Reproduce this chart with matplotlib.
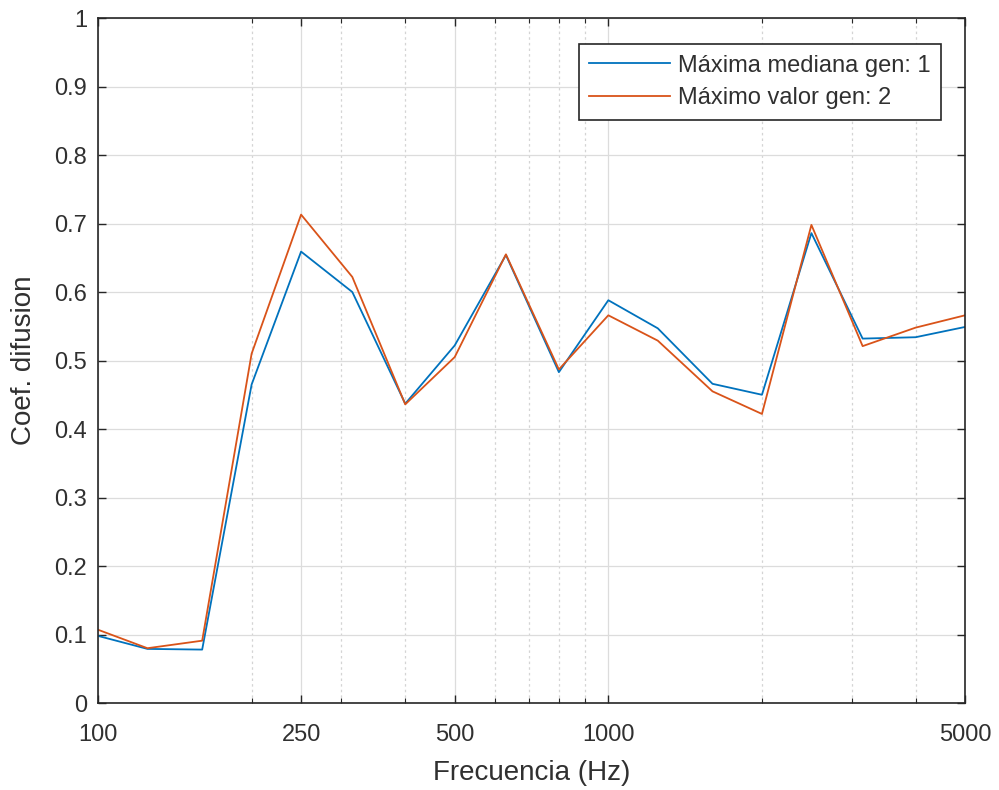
import matplotlib
matplotlib.use("Agg")
import matplotlib.pyplot as plt
from matplotlib.ticker import FixedLocator, NullFormatter

freqs = [100, 125, 160, 200, 250, 315, 400, 500, 630, 800, 1000, 1250,
         1600, 2000, 2500, 3150, 4000, 5000]
mediana_gen1 = [0.098, 0.079, 0.078, 0.465, 0.659, 0.600, 0.437, 0.522, 0.654,
                0.483, 0.588, 0.547, 0.466, 0.450, 0.686, 0.532, 0.534, 0.549]
maximo_gen2 = [0.107, 0.080, 0.091, 0.510, 0.713, 0.622, 0.436, 0.505, 0.655,
               0.487, 0.566, 0.529, 0.455, 0.422, 0.698, 0.521, 0.548, 0.566]
labels = ["Máxima mediana gen: 1", "Máximo valor gen: 2"]
xticks = [100, 250, 500, 1000, 5000]
xminor = [200, 300, 400, 600, 700, 800, 900, 2000, 3000, 4000]
yticks = [0, 0.1, 0.2, 0.3, 0.4, 0.5, 0.6, 0.7, 0.8, 0.9, 1]
ytick_labels = ["0", "0.1", "0.2", "0.3", "0.4", "0.5", "0.6", "0.7", "0.8", "0.9", "1"]

plt.rcParams['font.family'] = ['Liberation Sans', 'DejaVu Sans']
txt = '#303030'

fig = plt.figure(figsize=(9.99, 7.9), dpi=100)
ax = fig.add_axes([0.0981, 0.1101, 0.966 - 0.0981, 0.9772 - 0.1101])

ax.plot(freqs, mediana_gen1, color='#0072BD', lw=1.3, label=labels[0])
ax.plot(freqs, maximo_gen2, color='#D95319', lw=1.3, label=labels[1])

ax.set_xscale('log')
ax.set_xlim(100, 5000)
ax.set_ylim(0, 1)
ax.xaxis.set_major_locator(FixedLocator(xticks))
ax.set_xticklabels([str(v) for v in xticks])
ax.xaxis.set_minor_locator(FixedLocator(xminor))
ax.xaxis.set_minor_formatter(NullFormatter())
ax.set_yticks(yticks)
ax.set_yticklabels(ytick_labels)

ax.grid(which='major', color='#dcdcdc', lw=0.9, ls='-')
ax.grid(which='minor', axis='x', color='#d4d4d4', lw=0.9, ls=(0, (2, 2.5)))
ax.set_axisbelow(True)

ax.tick_params(which='major', direction='in', length=6, width=1.0, colors='#262626',
               labelsize=17, labelcolor=txt, top=True, right=True)
ax.tick_params(which='minor', direction='in', length=3.5, width=0.8, colors='#262626',
               top=True, right=False)
ax.tick_params(axis='x', pad=15)
ax.tick_params(axis='y', pad=8)
for s in ax.spines.values():
    s.set_color('#262626')
    s.set_linewidth(1.2)

ax.set_xlabel('Frecuencia (Hz)', fontsize=20, color=txt, labelpad=10)
ax.set_ylabel('Coef. difusion', fontsize=20, color=txt, labelpad=12)

leg = ax.legend(loc='upper right', bbox_to_anchor=(0.9723, 0.962), borderaxespad=0,
                fontsize=17, handlelength=3.4, handletextpad=0.35, labelspacing=0.45,
                borderpad=0.45, fancybox=False, framealpha=1, edgecolor='#262626')
leg.get_frame().set_linewidth(1.2)
for t in leg.get_texts():
    t.set_color(txt)

fig.savefig('out.png', dpi=100)
